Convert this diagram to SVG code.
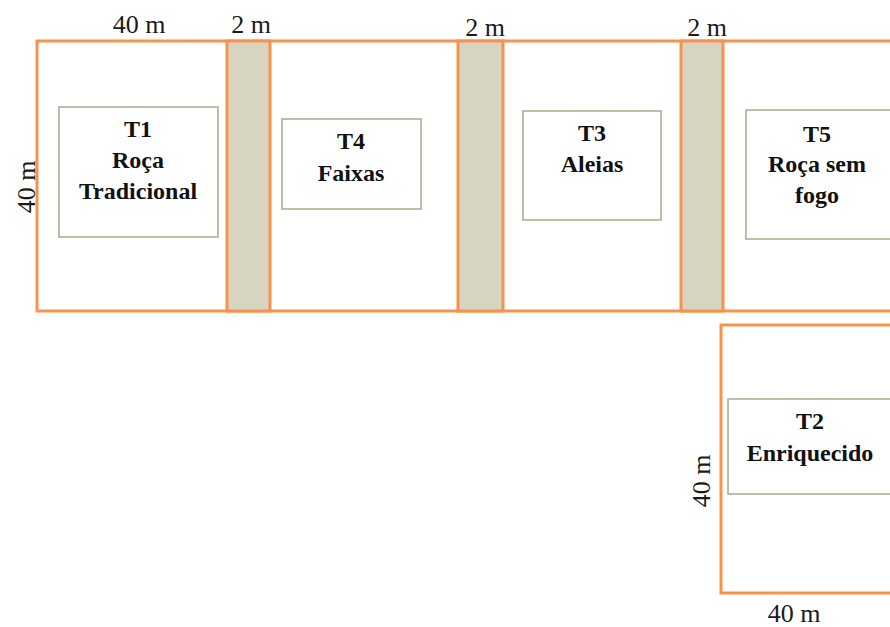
<svg xmlns="http://www.w3.org/2000/svg" width="890" height="627" viewBox="0 0 890 627">
<style>
.plot{fill:#ffffff;stroke:#f7934a;stroke-width:3}
.strip{fill:#d8d4c2;stroke:#f7934a;stroke-width:3}
.box{fill:#ffffff;stroke:#a8a98c;stroke-width:1.5}
.dim{font-family:"Liberation Serif",serif;font-size:26px;fill:#1a1a1a;text-anchor:middle}
.t{font-family:"Liberation Serif",serif;font-size:24px;font-weight:bold;fill:#111111;text-anchor:middle}
</style>
<rect width="890" height="627" fill="#ffffff"/>
<g id="field">
<rect class="plot" x="37" y="41" width="870" height="270"/>
</g>
<g id="strip1"><rect class="strip" x="227" y="41" width="43" height="270"/></g>
<g id="strip2"><rect class="strip" x="458" y="41" width="45" height="270"/></g>
<g id="strip3"><rect class="strip" x="681" y="41" width="42" height="270"/></g>
<g id="plotT2"><rect class="plot" x="721" y="325" width="190" height="268"/></g>
<g id="T1">
<rect class="box" x="59" y="107" width="159" height="130"/>
<text class="t" x="138" y="137">T1</text>
<text class="t" x="138" y="168">Roça</text>
<text class="t" x="138" y="199">Tradicional</text>
</g>
<g id="T4">
<rect class="box" x="282" y="119" width="139" height="90"/>
<text class="t" x="351" y="149">T4</text>
<text class="t" x="351" y="181">Faixas</text>
</g>
<g id="T3">
<rect class="box" x="523" y="111" width="138" height="109"/>
<text class="t" x="592" y="141">T3</text>
<text class="t" x="592" y="172">Aleias</text>
</g>
<g id="T5">
<rect class="box" x="746" y="110" width="170" height="129"/>
<text class="t" x="817" y="142">T5</text>
<text class="t" x="817" y="172">Roça sem</text>
<text class="t" x="817" y="203">fogo</text>
</g>
<g id="T2">
<rect class="box" x="728" y="399" width="180" height="95"/>
<text class="t" x="810" y="429">T2</text>
<text class="t" x="810" y="461">Enriquecido</text>
</g>
<g id="dimensions">
<text class="dim" x="139" y="33">40 m</text>
<text class="dim" x="251" y="33">2 m</text>
<text class="dim" x="485" y="36">2 m</text>
<text class="dim" x="707" y="36">2 m</text>
<text class="dim" transform="translate(35,187) rotate(-90)">40 m</text>
<text class="dim" transform="translate(710,481) rotate(-90)">40 m</text>
<text class="dim" x="794" y="622">40 m</text>
</g>
</svg>
